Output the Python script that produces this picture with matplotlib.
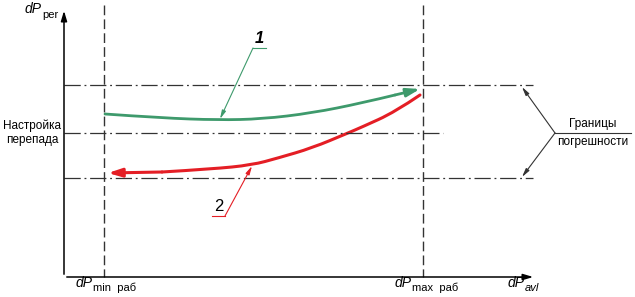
import matplotlib
matplotlib.use('Agg')
import matplotlib.pyplot as plt
from matplotlib.path import Path
from matplotlib.patches import PathPatch

plt.rcParams['font.family'] = ['Liberation Sans', 'DejaVu Sans']

W, H = 635, 297
DPI = 100

# curves (pixel-like units, y down)
green_x = [105, 162, 218, 262, 312, 362, 395, 420]
green_y = [114, 118, 120, 119, 113, 103, 95, 89]
red_x = [420, 395, 362, 348, 312, 278, 252, 212, 162, 108]
red_y = [95, 112, 127, 133, 148, 158, 165, 169, 172, 173]

# reference lines
x_min_rab, x_max_rab = 104, 423
y_upper, y_set, y_lower = 85, 133, 178

GREEN = '#3e9a6c'
RED = '#e41e25'
DARK = '#333333'


def smooth_path(xs, ys):
    # quadratic bezier through midpoints, the points act as control points
    pts = list(zip(xs, ys))
    verts = [pts[0]]
    codes = [Path.MOVETO]
    for i in range(1, len(pts) - 1):
        mid = ((pts[i][0] + pts[i + 1][0]) / 2, (pts[i][1] + pts[i + 1][1]) / 2)
        if i == len(pts) - 2:
            mid = pts[-1]
        verts += [pts[i], mid]
        codes += [Path.CURVE3, Path.CURVE3]
    return Path(verts, codes)


def curve(ax, xs, ys, color, lw):
    ax.add_patch(PathPatch(smooth_path(xs[:-1], ys[:-1]), fill=False, edgecolor=color, lw=lw,
                           capstyle='round'))
    ax.annotate('', xy=(xs[-1], ys[-1]), xytext=(xs[-2], ys[-2]),
                arrowprops=dict(arrowstyle='-|>,head_length=0.8,head_width=0.25', color=color, lw=lw,
                                shrinkA=0, shrinkB=0))


def main():
    fig = plt.figure(figsize=(W / DPI, H / DPI), dpi=DPI)
    ax = fig.add_axes([0, 0, 1, 1])
    ax.set_xlim(0, W)
    ax.set_ylim(H, 0)
    ax.axis('off')

    # axes with arrows
    ax.annotate('', xy=(64, 8), xytext=(64, 277),
                arrowprops=dict(arrowstyle='-|>,head_length=0.6,head_width=0.18', color='black', lw=1.1))
    ax.annotate('', xy=(536, 277), xytext=(64, 277),
                arrowprops=dict(arrowstyle='-|>,head_length=0.6,head_width=0.18', color='black', lw=1.1))

    # dashed verticals
    for x in (x_min_rab, x_max_rab):
        ax.plot([x, x], [5, 277], color=DARK, lw=1.0, ls=(0, (7, 3)))

    # dash-dot horizontals
    dd = (0, (13, 3, 1.5, 3))
    ax.plot([64, 533], [y_upper, y_upper], color=DARK, lw=0.9, ls=dd)
    ax.plot([64, 443], [y_set, y_set], color=DARK, lw=0.9, ls=dd)
    ax.plot([64, 533], [y_lower, y_lower], color=DARK, lw=0.9, ls=dd)

    # curves
    curve(ax, green_x, green_y, GREEN, 2.0)
    curve(ax, red_x, red_y, RED, 2.2)

    # leader 1
    ax.plot([253, 266], [48, 48], color=GREEN, lw=0.8)
    ax.annotate('', xy=(220, 119), xytext=(253, 48),
                arrowprops=dict(arrowstyle='-|>,head_length=0.5,head_width=0.12', color=GREEN, lw=0.8,
                                shrinkA=0, shrinkB=0))
    ax.text(259, 46, '1', fontsize=12, style='italic', fontweight='bold', ha='center', va='bottom')

    # leader 2
    ax.plot([212, 225], [216, 216], color=RED, lw=0.8)
    ax.annotate('', xy=(252, 166), xytext=(225, 216),
                arrowprops=dict(arrowstyle='-|>,head_length=0.5,head_width=0.12', color=RED, lw=0.8,
                                shrinkA=0, shrinkB=0))
    ax.text(219, 214, '2', fontsize=12, ha='center', va='bottom')

    # error bounds leader
    ax.plot([555, 631], [133, 133], color=DARK, lw=0.8)
    for yt in (y_upper + 2, y_lower - 1):
        ax.annotate('', xy=(522, yt), xytext=(555, 133),
                    arrowprops=dict(arrowstyle='-|>,head_length=0.5,head_width=0.12', color=DARK, lw=0.8,
                                    shrinkA=0, shrinkB=0))
    ax.text(593, 130, 'Границы', fontsize=8.5, ha='center', va='bottom')
    ax.text(593, 136, 'погрешности', fontsize=8.5, ha='center', va='top')

    ax.text(32, 133, 'Настройка\nперепада', fontsize=8.5, ha='center', va='center', linespacing=1.25)

    # axis labels
    ax.text(42, 13, 'dP', fontsize=10, style='italic', ha='right', va='baseline')
    ax.text(42, 18, 'per', fontsize=8, ha='left', va='baseline')
    ax.text(93, 287, 'dP', fontsize=10, style='italic', ha='right', va='baseline')
    ax.text(93, 291, 'min  раб', fontsize=8, ha='left', va='baseline')
    ax.text(412, 287, 'dP', fontsize=10, style='italic', ha='right', va='baseline')
    ax.text(412, 291, 'max  раб', fontsize=8, ha='left', va='baseline')
    ax.text(525, 287, 'dP', fontsize=10, style='italic', ha='right', va='baseline')
    ax.text(525, 291, 'avl', fontsize=8, style='italic', ha='left', va='baseline')

    fig.savefig('out.png', dpi=DPI)
    plt.close('all')


if __name__ == '__main__':
    main()
